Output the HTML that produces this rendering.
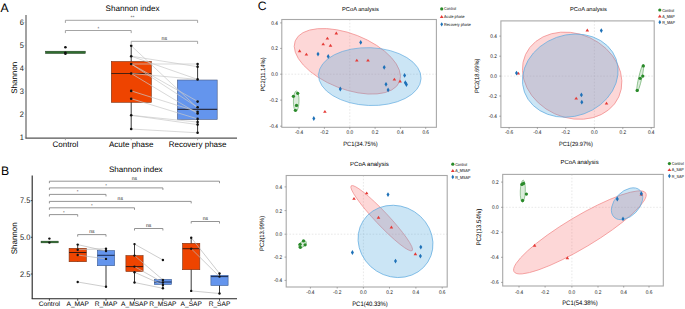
<!DOCTYPE html>
<html><head><meta charset="utf-8"><style>
html,body{margin:0;padding:0;background:#fff;width:685px;height:309px;overflow:hidden}
svg{display:block;font-family:"Liberation Sans", sans-serif;text-rendering:geometricPrecision}
</style></head><body>
<svg width="685" height="309" viewBox="0 0 685 309">
<rect width="685" height="309" fill="#fff"/>
<g id="A">
<text x="0.6" y="11.8" font-size="12.2" text-anchor="start" fill="#000" >A</text>
<text x="132.55" y="11.3" font-size="8.1" text-anchor="middle" fill="#000" >Shannon index</text>
<line x1="26.0" y1="15" x2="26.0" y2="138.2" stroke="#6a6a6a" stroke-width="1.25" />
<line x1="25.4" y1="138.2" x2="237" y2="138.2" stroke="#555" stroke-width="1.25" />
<line x1="24.7" y1="137.0" x2="26.0" y2="137.0" stroke="#9a9a9a" stroke-width="0.7" />
<text x="0" y="0" font-size="8.0" text-anchor="end" fill="#222" transform="translate(24.0,139.85) scale(0.93,1)">1</text>
<line x1="24.7" y1="114.1" x2="26.0" y2="114.1" stroke="#9a9a9a" stroke-width="0.7" />
<text x="0" y="0" font-size="8.0" text-anchor="end" fill="#222" transform="translate(24.0,116.95) scale(0.93,1)">2</text>
<line x1="24.7" y1="91.2" x2="26.0" y2="91.2" stroke="#9a9a9a" stroke-width="0.7" />
<text x="0" y="0" font-size="8.0" text-anchor="end" fill="#222" transform="translate(24.0,94.05) scale(0.93,1)">3</text>
<line x1="24.7" y1="68.3" x2="26.0" y2="68.3" stroke="#9a9a9a" stroke-width="0.7" />
<text x="0" y="0" font-size="8.0" text-anchor="end" fill="#222" transform="translate(24.0,71.15) scale(0.93,1)">4</text>
<line x1="24.7" y1="45.4" x2="26.0" y2="45.4" stroke="#9a9a9a" stroke-width="0.7" />
<text x="0" y="0" font-size="8.0" text-anchor="end" fill="#222" transform="translate(24.0,48.25) scale(0.93,1)">5</text>
<line x1="24.7" y1="22.5" x2="26.0" y2="22.5" stroke="#9a9a9a" stroke-width="0.7" />
<text x="0" y="0" font-size="8.0" text-anchor="end" fill="#222" transform="translate(24.0,25.35) scale(0.93,1)">6</text>
<line x1="65.4" y1="138.2" x2="65.4" y2="140.2" stroke="#8a8a8a" stroke-width="0.8" />
<line x1="131.2" y1="138.2" x2="131.2" y2="140.2" stroke="#8a8a8a" stroke-width="0.8" />
<line x1="197.6" y1="138.2" x2="197.6" y2="140.2" stroke="#8a8a8a" stroke-width="0.8" />
<text x="65.4" y="146.9" font-size="8" text-anchor="middle" fill="#000" >Control</text>
<text x="131.2" y="146.9" font-size="8" text-anchor="middle" fill="#000" >Acute phase</text>
<text x="197.6" y="146.9" font-size="8" text-anchor="middle" fill="#000" >Recovery phase</text>
<text x="0" y="0" font-size="8" text-anchor="middle" transform="translate(16.6,77.7) rotate(-90)">Shannon</text>
<path d="M65.4,22.9 V20.3 H197.6 V22.9" fill="none" stroke="#9a9a9a" stroke-width="0.9"/>
<text x="132.5" y="18.8" font-size="5" text-anchor="middle" fill="#555" >**</text>
<path d="M65.4,33.1 V30.5 H131.2 V33.1" fill="none" stroke="#9a9a9a" stroke-width="0.9"/>
<text x="98.4" y="29.8" font-size="4.6" text-anchor="middle" fill="#555" >*</text>
<path d="M131.2,43.9 V41.3 H197.6 V43.9" fill="none" stroke="#9a9a9a" stroke-width="0.9"/>
<text x="164.4" y="40.0" font-size="5.3" text-anchor="middle" fill="#222" >ns</text>
<rect x="45.5" y="51.2" width="39.8" height="2.3" fill="#2f6e2f" stroke="#203a20" stroke-width="0.5"/>
<line x1="131.2" y1="45.7" x2="131.2" y2="129" stroke="#222" stroke-width="0.9" />
<rect x="111.3" y="61.5" width="40" height="40.8" fill="#ee4400" stroke="#7a3010" stroke-width="0.6"/>
<line x1="111.3" y1="73.5" x2="151.3" y2="73.5" stroke="#4a2010" stroke-width="1.2" />
<line x1="197.6" y1="64" x2="197.6" y2="132.8" stroke="#222" stroke-width="0.9" />
<rect x="177.4" y="80.0" width="39.8" height="39.4" fill="#6495ed" stroke="#4a5a80" stroke-width="0.6"/>
<line x1="177.4" y1="109.4" x2="217.2" y2="109.4" stroke="#2a3048" stroke-width="1.2" />
<line x1="131.2" y1="45.7" x2="197.6" y2="108" stroke="#c8c8c8" stroke-width="0.7" />
<line x1="131.2" y1="56.2" x2="197.6" y2="66.7" stroke="#c8c8c8" stroke-width="0.7" />
<line x1="131.2" y1="56.2" x2="197.6" y2="79.4" stroke="#c8c8c8" stroke-width="0.7" />
<line x1="131.2" y1="64" x2="197.6" y2="64" stroke="#c8c8c8" stroke-width="0.7" />
<line x1="131.2" y1="64" x2="197.6" y2="101.4" stroke="#c8c8c8" stroke-width="0.7" />
<line x1="131.2" y1="73.5" x2="197.6" y2="79.4" stroke="#c8c8c8" stroke-width="0.7" />
<line x1="131.2" y1="73.5" x2="197.6" y2="113.5" stroke="#c8c8c8" stroke-width="0.7" />
<line x1="131.2" y1="90.9" x2="197.6" y2="111.7" stroke="#c8c8c8" stroke-width="0.7" />
<line x1="131.2" y1="98.7" x2="197.6" y2="118.9" stroke="#c8c8c8" stroke-width="0.7" />
<line x1="131.2" y1="115.3" x2="197.6" y2="122.1" stroke="#c8c8c8" stroke-width="0.7" />
<line x1="131.2" y1="115.3" x2="197.6" y2="124.6" stroke="#c8c8c8" stroke-width="0.7" />
<line x1="131.2" y1="129" x2="197.6" y2="132.8" stroke="#c8c8c8" stroke-width="0.7" />
<line x1="131.2" y1="64" x2="197.6" y2="107.3" stroke="#c8c8c8" stroke-width="0.7" />
<circle cx="131.2" cy="45.7" r="1.3" fill="#111"/>
<circle cx="131.2" cy="56.2" r="1.3" fill="#111"/>
<circle cx="131.2" cy="64" r="1.3" fill="#111"/>
<circle cx="131.2" cy="73.5" r="1.3" fill="#111"/>
<circle cx="131.2" cy="90.9" r="1.3" fill="#111"/>
<circle cx="131.2" cy="98.7" r="1.3" fill="#111"/>
<circle cx="131.2" cy="115.3" r="1.3" fill="#111"/>
<circle cx="131.2" cy="129" r="1.3" fill="#111"/>
<circle cx="197.6" cy="64" r="1.3" fill="#111"/>
<circle cx="197.6" cy="66.7" r="1.3" fill="#111"/>
<circle cx="197.6" cy="79.4" r="1.3" fill="#111"/>
<circle cx="197.6" cy="101.6" r="1.3" fill="#111"/>
<circle cx="197.6" cy="107.3" r="1.3" fill="#111"/>
<circle cx="197.6" cy="111.7" r="1.3" fill="#111"/>
<circle cx="197.6" cy="113.5" r="1.3" fill="#111"/>
<circle cx="197.6" cy="118.9" r="1.3" fill="#111"/>
<circle cx="197.6" cy="122.1" r="1.3" fill="#111"/>
<circle cx="197.6" cy="124.6" r="1.3" fill="#111"/>
<circle cx="197.6" cy="132.8" r="1.3" fill="#111"/>
<circle cx="65.4" cy="47.3" r="1.3" fill="#111"/>
<circle cx="65.4" cy="52.8" r="1.3" fill="#111"/>
<circle cx="65.4" cy="53.8" r="1.3" fill="#111"/>
</g>
<g id="B">
<text x="1.0" y="174.7" font-size="12.2" text-anchor="start" fill="#000" >B</text>
<text x="135.8" y="172.0" font-size="8.05" text-anchor="middle" fill="#000" >Shannon index</text>
<line x1="32.2" y1="175.5" x2="32.2" y2="298.8" stroke="#222" stroke-width="1.1" />
<line x1="31.7" y1="298.8" x2="237" y2="298.8" stroke="#222" stroke-width="1.1" />
<line x1="30.8" y1="200.6" x2="32.2" y2="200.6" stroke="#222" stroke-width="0.8" />
<text x="0" y="0" font-size="8.0" text-anchor="end" fill="#222" transform="translate(30.3,203.45) scale(0.93,1)">7.5</text>
<line x1="30.8" y1="237.3" x2="32.2" y2="237.3" stroke="#222" stroke-width="0.8" />
<text x="0" y="0" font-size="8.0" text-anchor="end" fill="#222" transform="translate(30.3,240.15) scale(0.93,1)">5.0</text>
<line x1="30.8" y1="274.0" x2="32.2" y2="274.0" stroke="#222" stroke-width="0.8" />
<text x="0" y="0" font-size="8.0" text-anchor="end" fill="#222" transform="translate(30.3,276.85) scale(0.93,1)">2.5</text>
<line x1="49.4" y1="298.8" x2="49.4" y2="300.8" stroke="#222" stroke-width="0.8" />
<text x="49.4" y="305.9" font-size="6.6" text-anchor="middle" fill="#000" >Control</text>
<line x1="77.7" y1="298.8" x2="77.7" y2="300.8" stroke="#222" stroke-width="0.8" />
<text x="77.7" y="305.9" font-size="6.6" text-anchor="middle" fill="#000" >A_MAP</text>
<line x1="106.0" y1="298.8" x2="106.0" y2="300.8" stroke="#222" stroke-width="0.8" />
<text x="106.0" y="305.9" font-size="6.6" text-anchor="middle" fill="#000" >R_MAP</text>
<line x1="134.5" y1="298.8" x2="134.5" y2="300.8" stroke="#222" stroke-width="0.8" />
<text x="134.5" y="305.9" font-size="6.6" text-anchor="middle" fill="#000" >A_MSAP</text>
<line x1="162.9" y1="298.8" x2="162.9" y2="300.8" stroke="#222" stroke-width="0.8" />
<text x="162.9" y="305.9" font-size="6.6" text-anchor="middle" fill="#000" >R_MSAP</text>
<line x1="191.2" y1="298.8" x2="191.2" y2="300.8" stroke="#222" stroke-width="0.8" />
<text x="191.2" y="305.9" font-size="6.6" text-anchor="middle" fill="#000" >A_SAP</text>
<line x1="219.5" y1="298.8" x2="219.5" y2="300.8" stroke="#222" stroke-width="0.8" />
<text x="219.5" y="305.9" font-size="6.6" text-anchor="middle" fill="#000" >R_SAP</text>
<text x="0" y="0" font-size="8" text-anchor="middle" transform="translate(16.6,238.3) rotate(-90)">Shannon</text>
<path d="M49.4,183.2 V181.2 H219.5 V183.2" fill="none" stroke="#888" stroke-width="0.9"/>
<text x="134.45" y="179.6" font-size="5.09" text-anchor="middle" fill="#222" >ns</text>
<path d="M49.4,189.9 V187.9 H162.9 V189.9" fill="none" stroke="#888" stroke-width="0.9"/>
<text x="106.1" y="186.7" font-size="4.4" text-anchor="middle" fill="#555" >*</text>
<path d="M49.4,196.4 V194.4 H106.0 V196.4" fill="none" stroke="#888" stroke-width="0.9"/>
<text x="77.6" y="192.8" font-size="4.4" text-anchor="middle" fill="#555" >*</text>
<path d="M49.4,203.4 V201.4 H191.2 V203.4" fill="none" stroke="#888" stroke-width="0.9"/>
<text x="120.3" y="199.8" font-size="5.09" text-anchor="middle" fill="#222" >ns</text>
<path d="M49.4,209.8 V207.8 H134.5 V209.8" fill="none" stroke="#888" stroke-width="0.9"/>
<text x="91.9" y="206.8" font-size="4.4" text-anchor="middle" fill="#555" >*</text>
<path d="M49.4,216.6 V214.6 H77.7 V216.6" fill="none" stroke="#888" stroke-width="0.9"/>
<text x="63.8" y="213.5" font-size="4.4" text-anchor="middle" fill="#555" >*</text>
<path d="M191.2,223.5 V221.5 H219.5 V223.5" fill="none" stroke="#888" stroke-width="0.9"/>
<text x="205.35" y="220.0" font-size="5.09" text-anchor="middle" fill="#222" >ns</text>
<path d="M134.5,230.5 V228.5 H162.9 V230.5" fill="none" stroke="#888" stroke-width="0.9"/>
<text x="148.7" y="227.0" font-size="5.09" text-anchor="middle" fill="#222" >ns</text>
<path d="M77.7,236.6 V234.6 H106.0 V236.6" fill="none" stroke="#888" stroke-width="0.9"/>
<text x="91.85" y="233.1" font-size="5.09" text-anchor="middle" fill="#222" >ns</text>
<line x1="77.7" y1="244.4" x2="77.7" y2="261.7" stroke="#222" stroke-width="0.9" />
<rect x="69.1" y="248.3" width="17.2" height="13.4" fill="#ee4400" stroke="#7a3010" stroke-width="0.6"/>
<line x1="69.1" y1="252.5" x2="86.3" y2="252.5" stroke="#3a1a10" stroke-width="1.0" />
<line x1="106.0" y1="248.7" x2="106.0" y2="286.8" stroke="#222" stroke-width="0.9" />
<rect x="97.4" y="250.6" width="17.2" height="15.1" fill="#6495ed" stroke="#3a5a90" stroke-width="0.6"/>
<line x1="97.4" y1="255.3" x2="114.6" y2="255.3" stroke="#1a2a50" stroke-width="1.0" />
<line x1="134.5" y1="244.1" x2="134.5" y2="282.5" stroke="#222" stroke-width="0.9" />
<rect x="125.9" y="255.6" width="17.2" height="15.9" fill="#ee4400" stroke="#7a3010" stroke-width="0.6"/>
<line x1="125.9" y1="266.6" x2="143.1" y2="266.6" stroke="#3a1a10" stroke-width="1.0" />
<line x1="162.9" y1="279.4" x2="162.9" y2="288.3" stroke="#222" stroke-width="0.9" />
<rect x="154.3" y="279.4" width="17.2" height="5.1" fill="#6495ed" stroke="#3a5a90" stroke-width="0.6"/>
<line x1="154.3" y1="282.0" x2="171.5" y2="282.0" stroke="#1a2a50" stroke-width="1.0" />
<line x1="191.2" y1="237.7" x2="191.2" y2="290.9" stroke="#222" stroke-width="0.9" />
<rect x="182.6" y="243.3" width="17.2" height="26.4" fill="#ee4400" stroke="#7a3010" stroke-width="0.6"/>
<line x1="182.6" y1="248.7" x2="199.8" y2="248.7" stroke="#3a1a10" stroke-width="1.0" />
<line x1="219.5" y1="273.5" x2="219.5" y2="293.5" stroke="#222" stroke-width="0.9" />
<rect x="210.9" y="275.3" width="17.2" height="10.2" fill="#6495ed" stroke="#3a5a90" stroke-width="0.6"/>
<line x1="210.9" y1="276.6" x2="228.1" y2="276.6" stroke="#1a2a50" stroke-width="1.0" />
<rect x="41" y="241.1" width="17.3" height="1.8" fill="#2f6e2f" stroke="#203a20" stroke-width="0.4"/>
<line x1="77.7" y1="244.6" x2="106.0" y2="251" stroke="#b8b8b8" stroke-width="0.7" />
<line x1="77.7" y1="249.7" x2="106.0" y2="248.7" stroke="#b8b8b8" stroke-width="0.7" />
<line x1="77.7" y1="255" x2="106.0" y2="258.9" stroke="#b8b8b8" stroke-width="0.7" />
<line x1="77.7" y1="282" x2="106.0" y2="286.8" stroke="#b8b8b8" stroke-width="0.7" />
<line x1="134.5" y1="244.1" x2="162.9" y2="260" stroke="#b8b8b8" stroke-width="0.7" />
<line x1="134.5" y1="255.6" x2="162.9" y2="279.9" stroke="#b8b8b8" stroke-width="0.7" />
<line x1="134.5" y1="266.6" x2="162.9" y2="282.5" stroke="#b8b8b8" stroke-width="0.7" />
<line x1="134.5" y1="272.2" x2="162.9" y2="285" stroke="#b8b8b8" stroke-width="0.7" />
<line x1="134.5" y1="282.5" x2="162.9" y2="288.3" stroke="#b8b8b8" stroke-width="0.7" />
<line x1="191.2" y1="237.7" x2="219.5" y2="273.5" stroke="#b8b8b8" stroke-width="0.7" />
<line x1="191.2" y1="248.7" x2="219.5" y2="276.6" stroke="#b8b8b8" stroke-width="0.7" />
<line x1="191.2" y1="290.9" x2="219.5" y2="293.5" stroke="#b8b8b8" stroke-width="0.7" />
<circle cx="49.4" cy="238.6" r="1.2" fill="#111"/>
<circle cx="49.4" cy="242.6" r="1.2" fill="#111"/>
<circle cx="77.7" cy="244.6" r="1.2" fill="#111"/>
<circle cx="77.7" cy="249.7" r="1.2" fill="#111"/>
<circle cx="77.7" cy="255" r="1.2" fill="#111"/>
<circle cx="77.7" cy="282" r="1.2" fill="#111"/>
<circle cx="106.0" cy="248.7" r="1.2" fill="#111"/>
<circle cx="106.0" cy="251" r="1.2" fill="#111"/>
<circle cx="106.0" cy="258.9" r="1.2" fill="#111"/>
<circle cx="106.0" cy="286.8" r="1.2" fill="#111"/>
<circle cx="134.5" cy="244.1" r="1.2" fill="#111"/>
<circle cx="134.5" cy="255.6" r="1.2" fill="#111"/>
<circle cx="134.5" cy="266.6" r="1.2" fill="#111"/>
<circle cx="134.5" cy="272.2" r="1.2" fill="#111"/>
<circle cx="134.5" cy="282.5" r="1.2" fill="#111"/>
<circle cx="162.9" cy="260" r="1.2" fill="#111"/>
<circle cx="162.9" cy="279.9" r="1.2" fill="#111"/>
<circle cx="162.9" cy="282.5" r="1.2" fill="#111"/>
<circle cx="162.9" cy="285" r="1.2" fill="#111"/>
<circle cx="162.9" cy="288.3" r="1.2" fill="#111"/>
<circle cx="191.2" cy="237.7" r="1.2" fill="#111"/>
<circle cx="191.2" cy="248.7" r="1.2" fill="#111"/>
<circle cx="191.2" cy="290.9" r="1.2" fill="#111"/>
<circle cx="219.5" cy="273.5" r="1.2" fill="#111"/>
<circle cx="219.5" cy="276.6" r="1.2" fill="#111"/>
<circle cx="219.5" cy="293.5" r="1.2" fill="#111"/>
</g>
<g id="C">
<text x="257.8" y="9.8" font-size="12.2" text-anchor="start" fill="#000" >C</text>
<line x1="349.8" y1="19.5" x2="349.8" y2="127.3" stroke="#d8d8d8" stroke-width="0.6" stroke-dasharray="1.6,1.6"/>
<line x1="281.8" y1="74.2" x2="436.4" y2="74.2" stroke="#d8d8d8" stroke-width="0.6" stroke-dasharray="1.6,1.6"/>
<ellipse cx="347.35" cy="61.3" rx="56.0" ry="27.6" transform="rotate(21.34 347.35 61.3)" fill="rgb(247,95,95)" fill-opacity="0.25" stroke="#f28c8c" stroke-width="0.7"/>
<ellipse cx="369.8" cy="76.6" rx="51.3" ry="28.9" transform="rotate(2.23 369.8 76.6)" fill="rgb(70,160,219)" fill-opacity="0.28" stroke="#62ace0" stroke-width="0.7"/>
<ellipse cx="296.2" cy="101.1" rx="10.1" ry="2.8" transform="rotate(91 296.2 101.1)" fill="rgb(90,170,90)" fill-opacity="0.22" stroke="#72b272" stroke-width="0.7"/>
<rect x="281.8" y="19.5" width="154.6" height="107.8" fill="none" stroke="#a8a8a8" stroke-width="1.1"/>
<line x1="299.0" y1="127.3" x2="299.0" y2="128.9" stroke="#777" stroke-width="0.6" />
<text x="0" y="0" font-size="5.4" text-anchor="middle" fill="#111" transform="translate(299.0,133.8) scale(0.88,1)">-0.4</text>
<line x1="324.4" y1="127.3" x2="324.4" y2="128.9" stroke="#777" stroke-width="0.6" />
<text x="0" y="0" font-size="5.4" text-anchor="middle" fill="#111" transform="translate(324.4,133.8) scale(0.88,1)">-0.2</text>
<line x1="349.8" y1="127.3" x2="349.8" y2="128.9" stroke="#777" stroke-width="0.6" />
<text x="0" y="0" font-size="5.4" text-anchor="middle" fill="#111" transform="translate(349.8,133.8) scale(0.88,1)">0.0</text>
<line x1="375.1" y1="127.3" x2="375.1" y2="128.9" stroke="#777" stroke-width="0.6" />
<text x="0" y="0" font-size="5.4" text-anchor="middle" fill="#111" transform="translate(375.1,133.8) scale(0.88,1)">0.2</text>
<line x1="400.4" y1="127.3" x2="400.4" y2="128.9" stroke="#777" stroke-width="0.6" />
<text x="0" y="0" font-size="5.4" text-anchor="middle" fill="#111" transform="translate(400.4,133.8) scale(0.88,1)">0.4</text>
<line x1="425.7" y1="127.3" x2="425.7" y2="128.9" stroke="#777" stroke-width="0.6" />
<text x="0" y="0" font-size="5.4" text-anchor="middle" fill="#111" transform="translate(425.7,133.8) scale(0.88,1)">0.6</text>
<line x1="280.1" y1="22.9" x2="281.8" y2="22.9" stroke="#777" stroke-width="0.6" />
<text x="0" y="0" font-size="5.4" text-anchor="end" fill="#111" transform="translate(277.8,24.8) scale(0.88,1)">0.4</text>
<line x1="280.1" y1="48.4" x2="281.8" y2="48.4" stroke="#777" stroke-width="0.6" />
<text x="0" y="0" font-size="5.4" text-anchor="end" fill="#111" transform="translate(277.8,50.3) scale(0.88,1)">0.2</text>
<line x1="280.1" y1="74.2" x2="281.8" y2="74.2" stroke="#777" stroke-width="0.6" />
<text x="0" y="0" font-size="5.4" text-anchor="end" fill="#111" transform="translate(277.8,76.1) scale(0.88,1)">0.0</text>
<line x1="280.1" y1="100.1" x2="281.8" y2="100.1" stroke="#777" stroke-width="0.6" />
<text x="0" y="0" font-size="5.4" text-anchor="end" fill="#111" transform="translate(277.8,102.0) scale(0.88,1)">-0.2</text>
<line x1="280.1" y1="126.2" x2="281.8" y2="126.2" stroke="#777" stroke-width="0.6" />
<text x="0" y="0" font-size="5.4" text-anchor="end" fill="#111" transform="translate(277.8,128.1) scale(0.88,1)">-0.4</text>
<text x="0" y="0" font-size="5.7" text-anchor="middle" fill="#000" transform="translate(360.4,11.2)">PCoA analysis</text>
<text x="0" y="0" font-size="6.2" text-anchor="middle" fill="#000" transform="translate(360.5,145.7) scale(0.93,1)">PC1(34.75%)</text>
<text x="0" y="0" font-size="6.2" text-anchor="middle" fill="#000" transform="translate(264.8,74.5) rotate(-90) scale(0.93,1)">PC2(11.14%)</text>
<path d="M299.6,49.3 L301.4,52.2 L297.8,52.2 Z" fill="#e53a36"/>
<path d="M306.4,52.7 L308.2,55.6 L304.6,55.6 Z" fill="#e53a36"/>
<path d="M323.2,42.4 L325.0,45.3 L321.4,45.3 Z" fill="#e53a36"/>
<path d="M327.4,36.7 L329.2,39.6 L325.6,39.6 Z" fill="#e53a36"/>
<path d="M330.5,43.8 L332.3,46.7 L328.7,46.7 Z" fill="#e53a36"/>
<path d="M336.3,31.6 L338.1,34.5 L334.5,34.5 Z" fill="#e53a36"/>
<path d="M356.8,58.7 L358.6,61.6 L355.0,61.6 Z" fill="#e53a36"/>
<path d="M368,58.7 L369.8,61.6 L366.2,61.6 Z" fill="#e53a36"/>
<path d="M324.9,109.9 L326.7,112.8 L323.1,112.8 Z" fill="#e53a36"/>
<path d="M394.4,77.7 L396.2,80.6 L392.6,80.6 Z" fill="#e53a36"/>
<path d="M400.1,79.5 L401.9,82.4 L398.3,82.4 Z" fill="#e53a36"/>
<path d="M318,51.7 L319.5,54.1 L318,56.5 L316.5,54.1 Z" fill="#1e71b8"/>
<path d="M328.2,54.0 L329.7,56.4 L328.2,58.8 L326.7,56.4 Z" fill="#1e71b8"/>
<path d="M360.7,40.0 L362.2,42.4 L360.7,44.8 L359.2,42.4 Z" fill="#1e71b8"/>
<path d="M313.8,116.1 L315.3,118.5 L313.8,120.9 L312.3,118.5 Z" fill="#1e71b8"/>
<path d="M340.3,86.6 L341.8,89 L340.3,91.4 L338.8,89 Z" fill="#1e71b8"/>
<path d="M384.2,64.9 L385.7,67.3 L384.2,69.7 L382.7,67.3 Z" fill="#1e71b8"/>
<path d="M404.6,73.0 L406.1,75.4 L404.6,77.8 L403.1,75.4 Z" fill="#1e71b8"/>
<path d="M386,81.9 L387.5,84.3 L386,86.7 L384.5,84.3 Z" fill="#1e71b8"/>
<path d="M388.1,87.5 L389.6,89.9 L388.1,92.3 L386.6,89.9 Z" fill="#1e71b8"/>
<path d="M405.3,80.3 L406.8,82.7 L405.3,85.1 L403.8,82.7 Z" fill="#1e71b8"/>
<path d="M406.4,82.1 L407.9,84.5 L406.4,86.9 L404.9,84.5 Z" fill="#1e71b8"/>
<circle cx="293.4" cy="96.3" r="1.65" fill="#2a8a2a"/>
<circle cx="297.7" cy="93.3" r="1.65" fill="#2a8a2a"/>
<circle cx="296.5" cy="105.4" r="1.65" fill="#2a8a2a"/>
<circle cx="295.4" cy="110.3" r="1.65" fill="#2a8a2a"/>
<circle cx="441.7" cy="8.9" r="1.6" fill="#2a8a2a"/>
<path d="M441.7,15 L443.6,17.9 L439.8,17.9 Z" fill="#e53a36"/>
<path d="M441.7,22.15 L443.1,24.3 L441.7,26.45 L440.3,24.3 Z" fill="#1e71b8"/>
<text x="0" y="0" font-size="4.3" text-anchor="start" fill="#000" transform="translate(444.1,10.4) scale(0.86,1)">Control</text>
<text x="0" y="0" font-size="4.3" text-anchor="start" fill="#000" transform="translate(444.1,18.1) scale(0.86,1)">Acute phase</text>
<text x="0" y="0" font-size="4.3" text-anchor="start" fill="#000" transform="translate(444.1,25.8) scale(0.86,1)">Recovery phase</text>
<line x1="594.4" y1="20.9" x2="594.4" y2="127.5" stroke="#d8d8d8" stroke-width="0.6" stroke-dasharray="1.6,1.6"/>
<line x1="500.9" y1="76.1" x2="654.2" y2="76.1" stroke="#d8d8d8" stroke-width="0.6" stroke-dasharray="1.6,1.6"/>
<ellipse cx="572.16" cy="75.7" rx="51.2" ry="41.9" transform="rotate(24.48 572.16 75.7)" fill="rgb(247,95,95)" fill-opacity="0.25" stroke="#f28c8c" stroke-width="0.7"/>
<ellipse cx="570.28" cy="75.61" rx="48.7" ry="40.6" transform="rotate(-19.81 570.28 75.61)" fill="rgb(70,160,219)" fill-opacity="0.28" stroke="#62ace0" stroke-width="0.7"/>
<ellipse cx="640.2" cy="78.1" rx="14.3" ry="1.6" transform="rotate(-77.2 640.2 78.1)" fill="rgb(90,170,90)" fill-opacity="0.22" stroke="#72b272" stroke-width="0.7"/>
<rect x="500.9" y="20.9" width="153.3" height="106.6" fill="none" stroke="#a8a8a8" stroke-width="1.1"/>
<line x1="509.1" y1="127.5" x2="509.1" y2="129.1" stroke="#777" stroke-width="0.6" />
<text x="0" y="0" font-size="5.4" text-anchor="middle" fill="#111" transform="translate(509.1,134.3) scale(0.88,1)">-0.6</text>
<line x1="537.4" y1="127.5" x2="537.4" y2="129.1" stroke="#777" stroke-width="0.6" />
<text x="0" y="0" font-size="5.4" text-anchor="middle" fill="#111" transform="translate(537.4,134.3) scale(0.88,1)">-0.4</text>
<line x1="565.7" y1="127.5" x2="565.7" y2="129.1" stroke="#777" stroke-width="0.6" />
<text x="0" y="0" font-size="5.4" text-anchor="middle" fill="#111" transform="translate(565.7,134.3) scale(0.88,1)">-0.2</text>
<line x1="594.4" y1="127.5" x2="594.4" y2="129.1" stroke="#777" stroke-width="0.6" />
<text x="0" y="0" font-size="5.4" text-anchor="middle" fill="#111" transform="translate(594.4,134.3) scale(0.88,1)">0.0</text>
<line x1="622.8" y1="127.5" x2="622.8" y2="129.1" stroke="#777" stroke-width="0.6" />
<text x="0" y="0" font-size="5.4" text-anchor="middle" fill="#111" transform="translate(622.8,134.3) scale(0.88,1)">0.2</text>
<line x1="651.2" y1="127.5" x2="651.2" y2="129.1" stroke="#777" stroke-width="0.6" />
<text x="0" y="0" font-size="5.4" text-anchor="middle" fill="#111" transform="translate(651.2,134.3) scale(0.88,1)">0.4</text>
<line x1="499.2" y1="36.1" x2="500.9" y2="36.1" stroke="#777" stroke-width="0.6" />
<text x="0" y="0" font-size="5.4" text-anchor="end" fill="#111" transform="translate(496.9,38.0) scale(0.88,1)">0.4</text>
<line x1="499.2" y1="56.2" x2="500.9" y2="56.2" stroke="#777" stroke-width="0.6" />
<text x="0" y="0" font-size="5.4" text-anchor="end" fill="#111" transform="translate(496.9,58.1) scale(0.88,1)">0.2</text>
<line x1="499.2" y1="76.1" x2="500.9" y2="76.1" stroke="#777" stroke-width="0.6" />
<text x="0" y="0" font-size="5.4" text-anchor="end" fill="#111" transform="translate(496.9,78.0) scale(0.88,1)">0.0</text>
<line x1="499.2" y1="96.0" x2="500.9" y2="96.0" stroke="#777" stroke-width="0.6" />
<text x="0" y="0" font-size="5.4" text-anchor="end" fill="#111" transform="translate(496.9,97.9) scale(0.88,1)">-0.2</text>
<line x1="499.2" y1="116.2" x2="500.9" y2="116.2" stroke="#777" stroke-width="0.6" />
<text x="0" y="0" font-size="5.4" text-anchor="end" fill="#111" transform="translate(496.9,118.1) scale(0.88,1)">-0.4</text>
<text x="0" y="0" font-size="5.7" text-anchor="middle" fill="#000" transform="translate(588.4,10.9)">PCoA analysis</text>
<text x="0" y="0" font-size="6.1" text-anchor="middle" fill="#000" transform="translate(576.0,145.6) scale(0.93,1)">PC1(29.97%)</text>
<text x="0" y="0" font-size="6.2" text-anchor="middle" fill="#000" transform="translate(479.0,75.8) rotate(-90) scale(0.93,1)">PC2(18.69%)</text>
<path d="M587.3,28.6 L589.1,31.5 L585.5,31.5 Z" fill="#e53a36"/>
<path d="M518.3,71.7 L520.1,74.6 L516.5,74.6 Z" fill="#e53a36"/>
<path d="M576.2,96.7 L578.0,99.6 L574.4,99.6 Z" fill="#e53a36"/>
<path d="M606.5,101.7 L608.3,104.6 L604.7,104.6 Z" fill="#e53a36"/>
<path d="M601.3,28.2 L602.8,30.6 L601.3,33.0 L599.8,30.6 Z" fill="#1e71b8"/>
<path d="M516.5,70.7 L518.0,73.1 L516.5,75.5 L515.0,73.1 Z" fill="#1e71b8"/>
<path d="M581.4,92.5 L582.9,94.9 L581.4,97.3 L579.9,94.9 Z" fill="#1e71b8"/>
<path d="M581.8,99.8 L583.3,102.2 L581.8,104.6 L580.3,102.2 Z" fill="#1e71b8"/>
<circle cx="643.3" cy="65.9" r="1.65" fill="#2a8a2a"/>
<circle cx="642.8" cy="76.1" r="1.65" fill="#2a8a2a"/>
<circle cx="640.1" cy="78.3" r="1.65" fill="#2a8a2a"/>
<circle cx="637.2" cy="90.4" r="1.65" fill="#2a8a2a"/>
<circle cx="659.8" cy="10.0" r="1.6" fill="#2a8a2a"/>
<path d="M659.8,14.5 L661.7,17.4 L657.9,17.4 Z" fill="#e53a36"/>
<path d="M659.8,20.05 L661.2,22.2 L659.8,24.35 L658.4,22.2 Z" fill="#1e71b8"/>
<text x="0" y="0" font-size="4.3" text-anchor="start" fill="#000" transform="translate(662.2,11.5) scale(0.86,1)">Control</text>
<text x="0" y="0" font-size="4.3" text-anchor="start" fill="#000" transform="translate(662.2,17.6) scale(0.86,1)">A_MAP</text>
<text x="0" y="0" font-size="4.3" text-anchor="start" fill="#000" transform="translate(662.2,23.7) scale(0.86,1)">R_MAP</text>
<line x1="363.4" y1="175.5" x2="363.4" y2="287.0" stroke="#d8d8d8" stroke-width="0.6" stroke-dasharray="1.6,1.6"/>
<line x1="286.2" y1="234.2" x2="447.2" y2="234.2" stroke="#d8d8d8" stroke-width="0.6" stroke-dasharray="1.6,1.6"/>
<ellipse cx="381.7" cy="218.2" rx="44.5" ry="6.5" transform="rotate(46.7 381.7 218.2)" fill="rgb(247,95,95)" fill-opacity="0.25" stroke="#f28c8c" stroke-width="0.7"/>
<ellipse cx="395.5" cy="241.4" rx="38.35" ry="35.2" transform="rotate(32.6 395.5 241.4)" fill="rgb(70,160,219)" fill-opacity="0.28" stroke="#62ace0" stroke-width="0.7"/>
<ellipse cx="302.5" cy="244.2" rx="4.5" ry="2.6" transform="rotate(-40 302.5 244.2)" fill="rgb(90,170,90)" fill-opacity="0.22" stroke="#72b272" stroke-width="0.7"/>
<rect x="286.2" y="175.5" width="161.0" height="111.5" fill="none" stroke="#a8a8a8" stroke-width="1.1"/>
<line x1="310.4" y1="287.0" x2="310.4" y2="288.6" stroke="#777" stroke-width="0.6" />
<text x="0" y="0" font-size="5.4" text-anchor="middle" fill="#111" transform="translate(310.4,294.3) scale(0.88,1)">-0.4</text>
<line x1="337.2" y1="287.0" x2="337.2" y2="288.6" stroke="#777" stroke-width="0.6" />
<text x="0" y="0" font-size="5.4" text-anchor="middle" fill="#111" transform="translate(337.2,294.3) scale(0.88,1)">-0.2</text>
<line x1="363.4" y1="287.0" x2="363.4" y2="288.6" stroke="#777" stroke-width="0.6" />
<text x="0" y="0" font-size="5.4" text-anchor="middle" fill="#111" transform="translate(363.4,294.3) scale(0.88,1)">0.0</text>
<line x1="389.5" y1="287.0" x2="389.5" y2="288.6" stroke="#777" stroke-width="0.6" />
<text x="0" y="0" font-size="5.4" text-anchor="middle" fill="#111" transform="translate(389.5,294.3) scale(0.88,1)">0.2</text>
<line x1="415.9" y1="287.0" x2="415.9" y2="288.6" stroke="#777" stroke-width="0.6" />
<text x="0" y="0" font-size="5.4" text-anchor="middle" fill="#111" transform="translate(415.9,294.3) scale(0.88,1)">0.4</text>
<line x1="442.2" y1="287.0" x2="442.2" y2="288.6" stroke="#777" stroke-width="0.6" />
<text x="0" y="0" font-size="5.4" text-anchor="middle" fill="#111" transform="translate(442.2,294.3) scale(0.88,1)">0.6</text>
<line x1="284.5" y1="186.9" x2="286.2" y2="186.9" stroke="#777" stroke-width="0.6" />
<text x="0" y="0" font-size="5.4" text-anchor="end" fill="#111" transform="translate(282.2,188.8) scale(0.88,1)">0.4</text>
<line x1="284.5" y1="210.6" x2="286.2" y2="210.6" stroke="#777" stroke-width="0.6" />
<text x="0" y="0" font-size="5.4" text-anchor="end" fill="#111" transform="translate(282.2,212.5) scale(0.88,1)">0.2</text>
<line x1="284.5" y1="234.2" x2="286.2" y2="234.2" stroke="#777" stroke-width="0.6" />
<text x="0" y="0" font-size="5.4" text-anchor="end" fill="#111" transform="translate(282.2,236.1) scale(0.88,1)">0.0</text>
<line x1="284.5" y1="257.1" x2="286.2" y2="257.1" stroke="#777" stroke-width="0.6" />
<text x="0" y="0" font-size="5.4" text-anchor="end" fill="#111" transform="translate(282.2,259.0) scale(0.88,1)">-0.2</text>
<line x1="284.5" y1="280.4" x2="286.2" y2="280.4" stroke="#777" stroke-width="0.6" />
<text x="0" y="0" font-size="5.4" text-anchor="end" fill="#111" transform="translate(282.2,282.3) scale(0.88,1)">-0.4</text>
<text x="0" y="0" font-size="6.0" text-anchor="middle" fill="#000" transform="translate(369.4,165.9)">PCoA analysis</text>
<text x="0" y="0" font-size="6.4" text-anchor="middle" fill="#000" transform="translate(370.0,306.1) scale(0.93,1)">PC1(40.33%)</text>
<text x="0" y="0" font-size="6.3" text-anchor="middle" fill="#000" transform="translate(264.0,233.4) rotate(-90) scale(0.93,1)">PC2(13.99%)</text>
<path d="M354,196.9 L355.8,199.8 L352.2,199.8 Z" fill="#e53a36"/>
<path d="M366.7,191.4 L368.5,194.3 L364.9,194.3 Z" fill="#e53a36"/>
<path d="M378.5,215.8 L380.3,218.7 L376.7,218.7 Z" fill="#e53a36"/>
<path d="M391.4,225.6 L393.2,228.5 L389.6,228.5 Z" fill="#e53a36"/>
<path d="M415.4,252.3 L417.2,255.2 L413.6,255.2 Z" fill="#e53a36"/>
<path d="M388,192.2 L389.5,194.6 L388,197.0 L386.5,194.6 Z" fill="#1e71b8"/>
<path d="M352.4,250.1 L353.9,252.5 L352.4,254.9 L350.9,252.5 Z" fill="#1e71b8"/>
<path d="M395.5,258.7 L397.0,261.1 L395.5,263.5 L394.0,261.1 Z" fill="#1e71b8"/>
<path d="M420.8,244.7 L422.3,247.1 L420.8,249.5 L419.3,247.1 Z" fill="#1e71b8"/>
<path d="M420.4,253.7 L421.9,256.1 L420.4,258.5 L418.9,256.1 Z" fill="#1e71b8"/>
<circle cx="303.5" cy="240.9" r="1.65" fill="#2a8a2a"/>
<circle cx="300.1" cy="244.3" r="1.65" fill="#2a8a2a"/>
<circle cx="305.1" cy="244.8" r="1.65" fill="#2a8a2a"/>
<circle cx="300.3" cy="247.3" r="1.65" fill="#2a8a2a"/>
<circle cx="452.8" cy="164.2" r="1.6" fill="#2a8a2a"/>
<path d="M452.8,169.0 L454.7,171.9 L450.9,171.9 Z" fill="#e53a36"/>
<path d="M452.8,174.85 L454.2,177.0 L452.8,179.15 L451.4,177.0 Z" fill="#1e71b8"/>
<text x="0" y="0" font-size="4.3" text-anchor="start" fill="#000" transform="translate(455.2,165.7) scale(0.86,1)">Control</text>
<text x="0" y="0" font-size="4.3" text-anchor="start" fill="#000" transform="translate(455.2,172.1) scale(0.86,1)">A_MSAP</text>
<text x="0" y="0" font-size="4.3" text-anchor="start" fill="#000" transform="translate(455.2,178.5) scale(0.86,1)">R_MSAP</text>
<line x1="571.9" y1="174.4" x2="571.9" y2="286.0" stroke="#d8d8d8" stroke-width="0.6" stroke-dasharray="1.6,1.6"/>
<line x1="502.7" y1="207.3" x2="663.3" y2="207.3" stroke="#d8d8d8" stroke-width="0.6" stroke-dasharray="1.6,1.6"/>
<ellipse cx="579.9" cy="232.4" rx="76.7" ry="15.6" transform="rotate(-30.86 579.9 232.4)" fill="rgb(247,95,95)" fill-opacity="0.25" stroke="#f28c8c" stroke-width="0.7"/>
<ellipse cx="627.07" cy="203.75" rx="18.66" ry="12.29" transform="rotate(-45.97 627.07 203.75)" fill="rgb(70,160,219)" fill-opacity="0.28" stroke="#62ace0" stroke-width="0.7"/>
<ellipse cx="522.8" cy="191.1" rx="11.0" ry="2.5" transform="rotate(92 522.8 191.1)" fill="rgb(90,170,90)" fill-opacity="0.22" stroke="#72b272" stroke-width="0.7"/>
<rect x="502.7" y="174.4" width="160.6" height="111.6" fill="none" stroke="#a8a8a8" stroke-width="1.1"/>
<line x1="519.0" y1="286.0" x2="519.0" y2="287.6" stroke="#777" stroke-width="0.6" />
<text x="0" y="0" font-size="5.4" text-anchor="middle" fill="#111" transform="translate(519.0,293.7) scale(0.88,1)">-0.4</text>
<line x1="545.1" y1="286.0" x2="545.1" y2="287.6" stroke="#777" stroke-width="0.6" />
<text x="0" y="0" font-size="5.4" text-anchor="middle" fill="#111" transform="translate(545.1,293.7) scale(0.88,1)">-0.2</text>
<line x1="571.9" y1="286.0" x2="571.9" y2="287.6" stroke="#777" stroke-width="0.6" />
<text x="0" y="0" font-size="5.4" text-anchor="middle" fill="#111" transform="translate(571.9,293.7) scale(0.88,1)">0.0</text>
<line x1="598.0" y1="286.0" x2="598.0" y2="287.6" stroke="#777" stroke-width="0.6" />
<text x="0" y="0" font-size="5.4" text-anchor="middle" fill="#111" transform="translate(598.0,293.7) scale(0.88,1)">0.2</text>
<line x1="623.7" y1="286.0" x2="623.7" y2="287.6" stroke="#777" stroke-width="0.6" />
<text x="0" y="0" font-size="5.4" text-anchor="middle" fill="#111" transform="translate(623.7,293.7) scale(0.88,1)">0.4</text>
<line x1="649.0" y1="286.0" x2="649.0" y2="287.6" stroke="#777" stroke-width="0.6" />
<text x="0" y="0" font-size="5.4" text-anchor="middle" fill="#111" transform="translate(649.0,293.7) scale(0.88,1)">0.6</text>
<line x1="501.0" y1="182.1" x2="502.7" y2="182.1" stroke="#777" stroke-width="0.6" />
<text x="0" y="0" font-size="5.4" text-anchor="end" fill="#111" transform="translate(498.7,184.0) scale(0.88,1)">0.2</text>
<line x1="501.0" y1="207.3" x2="502.7" y2="207.3" stroke="#777" stroke-width="0.6" />
<text x="0" y="0" font-size="5.4" text-anchor="end" fill="#111" transform="translate(498.7,209.2) scale(0.88,1)">0.0</text>
<line x1="501.0" y1="232.2" x2="502.7" y2="232.2" stroke="#777" stroke-width="0.6" />
<text x="0" y="0" font-size="5.4" text-anchor="end" fill="#111" transform="translate(498.7,234.1) scale(0.88,1)">-0.2</text>
<line x1="501.0" y1="257.3" x2="502.7" y2="257.3" stroke="#777" stroke-width="0.6" />
<text x="0" y="0" font-size="5.4" text-anchor="end" fill="#111" transform="translate(498.7,259.2) scale(0.88,1)">-0.4</text>
<line x1="501.0" y1="282.4" x2="502.7" y2="282.4" stroke="#777" stroke-width="0.6" />
<text x="0" y="0" font-size="5.4" text-anchor="end" fill="#111" transform="translate(498.7,284.3) scale(0.88,1)">-0.6</text>
<text x="0" y="0" font-size="5.9" text-anchor="middle" fill="#000" transform="translate(579.6,163.9)">PCoA analysis</text>
<text x="0" y="0" font-size="6.4" text-anchor="middle" fill="#000" transform="translate(580.0,304.9) scale(0.93,1)">PC1(54.38%)</text>
<text x="0" y="0" font-size="6.6" text-anchor="middle" fill="#000" transform="translate(480.6,227.1) rotate(-90) scale(0.93,1)">PC2(13.54%)</text>
<path d="M534.6,243.8 L536.4,246.7 L532.8,246.7 Z" fill="#e53a36"/>
<path d="M567.4,256.3 L569.2,259.2 L565.6,259.2 Z" fill="#e53a36"/>
<path d="M641.3,192.5 L643.1,195.4 L639.5,195.4 Z" fill="#e53a36"/>
<path d="M617.3,196.6 L618.8,199.0 L617.3,201.4 L615.8,199.0 Z" fill="#1e71b8"/>
<path d="M641.3,191.3 L642.8,193.7 L641.3,196.1 L639.8,193.7 Z" fill="#1e71b8"/>
<path d="M623,216.5 L624.5,218.9 L623,221.3 L621.5,218.9 Z" fill="#1e71b8"/>
<circle cx="521.9" cy="184.4" r="1.65" fill="#2a8a2a"/>
<circle cx="523.5" cy="183.5" r="1.65" fill="#2a8a2a"/>
<circle cx="526.4" cy="194.1" r="1.65" fill="#2a8a2a"/>
<circle cx="522.6" cy="200.5" r="1.65" fill="#2a8a2a"/>
<circle cx="669.4" cy="163.6" r="1.6" fill="#2a8a2a"/>
<path d="M669.4,168.2 L671.3,171.1 L667.5,171.1 Z" fill="#e53a36"/>
<path d="M669.4,173.85 L670.8,176.0 L669.4,178.15 L668.0,176.0 Z" fill="#1e71b8"/>
<text x="0" y="0" font-size="4.3" text-anchor="start" fill="#000" transform="translate(671.8,165.1) scale(0.86,1)">Control</text>
<text x="0" y="0" font-size="4.3" text-anchor="start" fill="#000" transform="translate(671.8,171.3) scale(0.86,1)">A_SAP</text>
<text x="0" y="0" font-size="4.3" text-anchor="start" fill="#000" transform="translate(671.8,177.5) scale(0.86,1)">R_SAP</text>
</g>
</svg>
</body></html>
